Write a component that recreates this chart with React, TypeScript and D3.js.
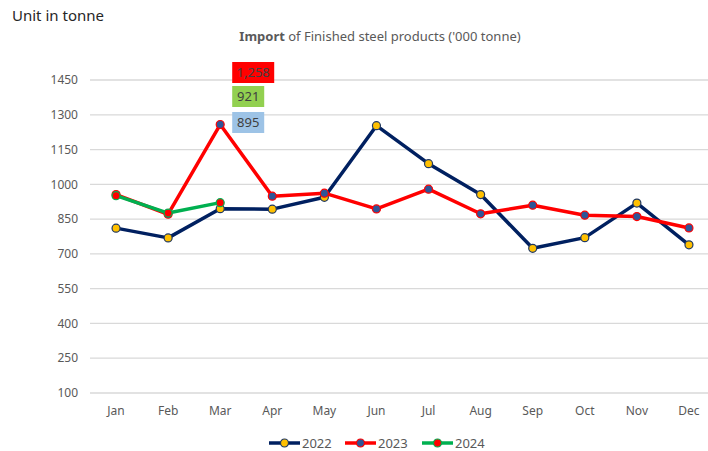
import React, { useEffect, useRef } from 'react';
import * as d3 from 'd3';

const months = ['Jan', 'Feb', 'Mar', 'Apr', 'May', 'Jun', 'Jul', 'Aug', 'Sep', 'Oct', 'Nov', 'Dec'];
const values2022 = [811, 769, 895, 893, 944, 1253, 1089, 956, 724, 770, 919, 739];
const values2023 = [956, 871, 1258, 949, 962, 894, 979, 873, 910, 867, 861, 812];
const values2024 = [951, 876, 921];
const yTicks = [100, 250, 400, 550, 700, 850, 1000, 1150, 1300, 1450];

const seriesList = [
  { name: '2022', values: values2022, line: '#002060', fill: '#FFC000', stroke: '#1F3864' },
  { name: '2023', values: values2023, line: '#FF0000', fill: '#2F5597', stroke: '#FF0000' },
  { name: '2024', values: values2024, line: '#00B050', fill: '#FF0000', stroke: '#00B050' },
];

// callouts shown beside March
const callouts = [
  { text: '1,258', bg: '#FF0000' },
  { text: '921', bg: '#92D050' },
  { text: '895', bg: '#9DC3E6' },
];

const W = 708;
const H = 451;
const font = "'Noto Sans', sans-serif";

function App() {
  const svgRef = useRef<SVGSVGElement>(null);

  useEffect(() => {
    if (!svgRef.current) return;
    const svg = d3.select(svgRef.current);
    svg.selectAll('*').remove();

    const left = 90, right = 715, top = 80, bottom = 393;

    const x = d3.scalePoint().domain(months).range([left, right]).padding(0.5);
    const y = d3.scaleLinear().domain([100, 1450]).range([bottom, top]);

    // gridlines
    svg.append('g')
      .selectAll('line')
      .data(yTicks)
      .join('line')
      .attr('x1', left)
      .attr('x2', right)
      .attr('y1', d => y(d))
      .attr('y2', d => y(d))
      .attr('stroke', '#D9D9D9')
      .attr('stroke-width', 1.3);

    // y labels
    svg.append('g')
      .selectAll('text')
      .data(yTicks)
      .join('text')
      .attr('x', 78)
      .attr('y', d => y(d))
      .attr('dy', '0.35em')
      .attr('text-anchor', 'end')
      .attr('font-family', font)
      .attr('font-size', 12)
      .attr('fill', '#595959')
      .text(d => d);

    // x labels
    svg.append('g')
      .selectAll('text')
      .data(months)
      .join('text')
      .attr('x', d => x(d)!)
      .attr('y', 415)
      .attr('text-anchor', 'middle')
      .attr('font-family', font)
      .attr('font-size', 12)
      .attr('fill', '#595959')
      .text(d => d);

    const line = d3.line<number>()
      .x((d, i) => x(months[i])!)
      .y(d => y(d));

    seriesList.forEach(s => {
      svg.append('path')
        .datum(s.values)
        .attr('fill', 'none')
        .attr('stroke', s.line)
        .attr('stroke-width', 3.5)
        .attr('stroke-linejoin', 'round')
        .attr('d', line);
      svg.append('g')
        .selectAll('circle')
        .data(s.values)
        .join('circle')
        .attr('cx', (d, i) => x(months[i])!)
        .attr('cy', d => y(d))
        .attr('r', 4)
        .attr('fill', s.fill)
        .attr('stroke', s.stroke)
        .attr('stroke-width', 1.2);
    });

    // callouts near March
    const mx = x('Mar')!;
    const boxY = [62, 86, 112];
    const boxW = [42, 32, 32];
    callouts.forEach((c, i) => {
      const g = svg.append('g');
      g.append('rect')
        .attr('x', mx + 12)
        .attr('y', boxY[i])
        .attr('width', boxW[i])
        .attr('height', 21)
        .attr('fill', c.bg);
      g.append('text')
        .attr('x', mx + 12 + boxW[i] / 2)
        .attr('y', boxY[i] + 10.5)
        .attr('dy', '0.35em')
        .attr('text-anchor', 'middle')
        .attr('font-family', font)
        .attr('font-size', 13)
        .attr('fill', '#404040')
        .text(c.text);
    });

    // title
    svg.append('text')
      .attr('x', 12)
      .attr('y', 21)
      .attr('font-family', font)
      .attr('font-size', 15)
      .attr('fill', '#262626')
      .text('Unit in tonne');

    const title = svg.append('text')
      .attr('x', 380)
      .attr('y', 41)
      .attr('text-anchor', 'middle')
      .attr('font-family', font)
      .attr('font-size', 13)
      .attr('fill', '#595959');
    title.append('tspan').attr('font-weight', 'bold').text('Import');
    title.append('tspan').text(" of Finished steel products ('000 tonne)");

    // legend
    const legendX = [269, 345, 422];
    seriesList.forEach((s, i) => {
      const g = svg.append('g').attr('transform', `translate(${legendX[i]},443)`);
      g.append('line')
        .attr('x1', 0).attr('x2', 31)
        .attr('stroke', s.line)
        .attr('stroke-width', 3.5);
      g.append('circle')
        .attr('cx', 15.5)
        .attr('r', 4)
        .attr('fill', s.fill)
        .attr('stroke', s.stroke)
        .attr('stroke-width', 1.2);
      g.append('text')
        .attr('x', 33)
        .attr('y', 5)
        .attr('font-family', font)
        .attr('font-size', 13)
        .attr('fill', '#595959')
        .text(s.name);
    });
  }, []);

  return <svg ref={svgRef} width={W} height={H} style={{ position: 'absolute', left: 0, top: 0 }} />;
}

export default App;
